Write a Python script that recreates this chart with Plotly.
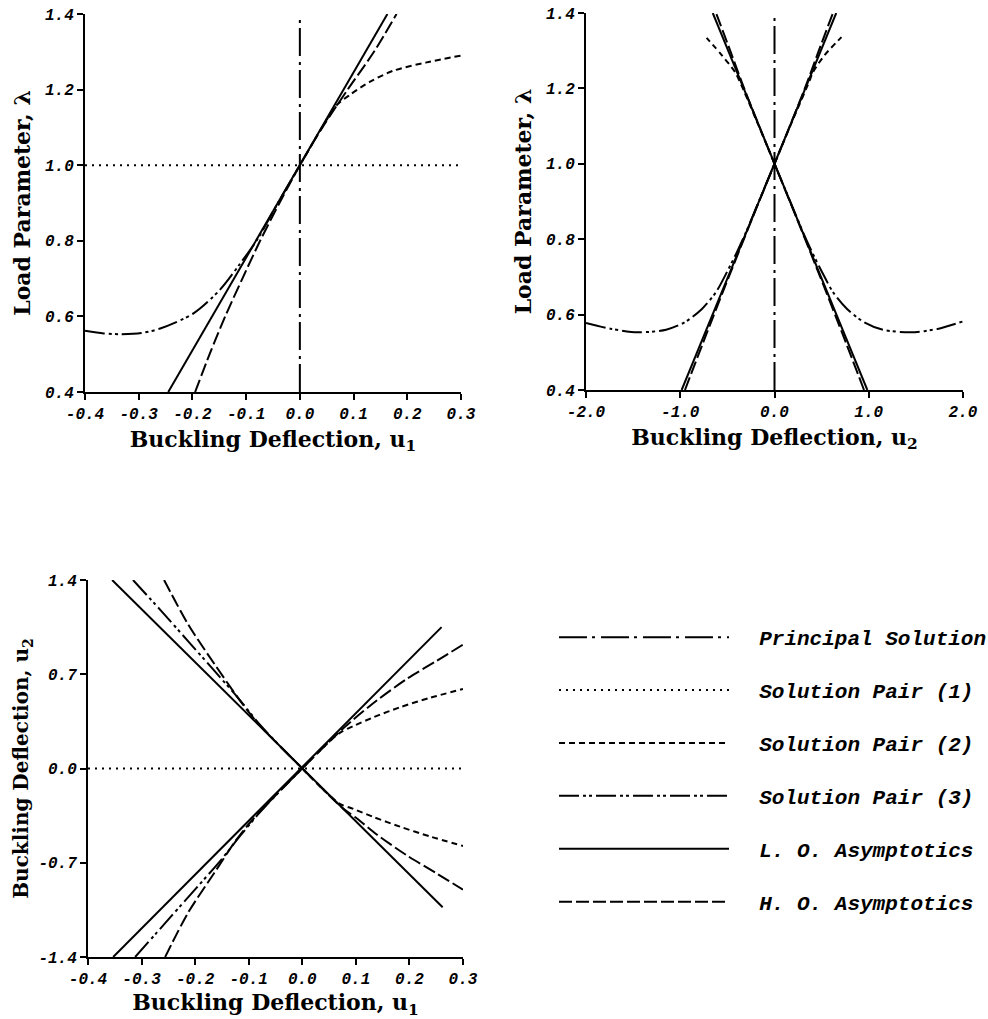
import plotly.graph_objects as go

# ---------------- Panel 1: load parameter vs u1 ----------------
P1_PRINCIPAL_U1 = [0.0, 0.0]
P1_PRINCIPAL_LAM = [0.4, 1.4]

P1_PAIR1_U1 = [-0.4, 0.3]
P1_PAIR1_LAM = [1.0, 1.0]

P1_PAIR2_U1 = [0.0, 0.03, 0.05, 0.068, 0.093, 0.131, 0.174, 0.236, 0.3]
P1_PAIR2_LAM = [1.0, 1.073, 1.12, 1.158, 1.186, 1.221, 1.250, 1.272, 1.29]

P1_PAIR3_U1 = [-0.4, -0.365, -0.333, -0.295, -0.26, -0.198, -0.149, -0.111, -0.08, -0.04, 0.0]
P1_PAIR3_LAM = [0.562, 0.555, 0.553, 0.556, 0.568, 0.608, 0.670, 0.740, 0.802, 0.902, 1.0]

P1_LO_U1 = [-0.245, 0.163]
P1_LO_LAM = [0.4, 1.4]

P1_HO_U1 = [-0.195, -0.168, -0.139, -0.107, -0.074, -0.038, 0.0, 0.042, 0.089, 0.138, 0.18]
P1_HO_LAM = [0.4, 0.5, 0.6, 0.7, 0.8, 0.9, 1.0, 1.1, 1.2, 1.3, 1.4]

# ---------------- Panel 2: load parameter vs u2 ----------------
P2_PRINCIPAL_U2 = [0.0, 0.0]
P2_PRINCIPAL_LAM = [0.4, 1.4]

P2_PAIR2_LEFT_U2 = [0.0, -0.2, -0.368, -0.421, -0.562, -0.72]
P2_PAIR2_LEFT_LAM = [1.0, 1.12, 1.218, 1.244, 1.289, 1.334]
P2_PAIR2_RIGHT_U2 = [0.0, 0.2, 0.368, 0.41, 0.534, 0.711]
P2_PAIR2_RIGHT_LAM = [1.0, 1.12, 1.218, 1.244, 1.289, 1.336]

P2_PAIR3_LEFT_U2 = [-2.0, -1.73, -1.45, -1.15, -0.95, -0.77, -0.62, -0.5, -0.4, -0.3, -0.15, 0.0]
P2_PAIR3_LEFT_LAM = [0.578, 0.562, 0.553, 0.56, 0.58, 0.615, 0.66, 0.715, 0.765, 0.82, 0.91, 1.0]
P2_PAIR3_RIGHT_U2 = [0.0, 0.15, 0.3, 0.4, 0.5, 0.62, 0.77, 0.95, 1.15, 1.45, 1.73, 2.0]
P2_PAIR3_RIGHT_LAM = [1.0, 0.91, 0.82, 0.765, 0.715, 0.66, 0.615, 0.58, 0.56, 0.553, 0.562, 0.582]

P2_LO_A_U2 = [-0.985, 0.655]
P2_LO_B_U2 = [0.985, -0.655]
P2_LO_LAM = [0.4, 1.4]

P2_HO_A_U2 = [-0.95, -0.72, -0.485, -0.245, 0.0, 0.163, 0.322, 0.47, 0.62]
P2_HO_B_U2 = [0.95, 0.72, 0.485, 0.245, 0.0, -0.163, -0.322, -0.47, -0.62]
P2_HO_LAM = [0.4, 0.55, 0.7, 0.85, 1.0, 1.1, 1.2, 1.3, 1.4]

# ---------------- Panel 3: u2 vs u1 ----------------
P3_PAIR1_U1 = [-0.4, 0.3]
P3_PAIR1_U2 = [0.0, 0.0]

P3_PAIR2_UP_U1 = [0.0, 0.04, 0.07, 0.0953, 0.1326, 0.1824, 0.2384, 0.3]
P3_PAIR2_UP_U2 = [0.0, 0.16, 0.265, 0.315, 0.38, 0.455, 0.525, 0.59]
P3_PAIR2_DN_U1 = [0.0, 0.04, 0.07, 0.0953, 0.1326, 0.1824, 0.2384, 0.3]
P3_PAIR2_DN_U2 = [0.0, -0.16, -0.262, -0.30, -0.36, -0.432, -0.505, -0.575]

P3_PAIR3_UP_U1 = [-0.316, -0.263, -0.2133, -0.1635, -0.12, -0.08, -0.04, 0.0]
P3_PAIR3_UP_U2 = [1.4, 1.169, 0.946, 0.723, 0.525, 0.33, 0.16, 0.0]
P3_PAIR3_DN_U1 = [-0.312, -0.2445, -0.1947, -0.151, -0.1138, -0.08, -0.04, 0.0]
P3_PAIR3_DN_U2 = [-1.4, -1.097, -0.874, -0.676, -0.49, -0.33, -0.16, 0.0]

P3_LO_A_U1 = [-0.355, 0.262]
P3_LO_A_U2 = [1.4, -1.03]
P3_LO_B_U1 = [-0.353, 0.26]
P3_LO_B_U2 = [-1.4, 1.05]

P3_HO_A_U1 = [-0.258, -0.213, -0.1635, -0.12, -0.089, -0.07, -0.04, 0.0,
              0.04, 0.077, 0.1016, 0.139, 0.195, 0.251, 0.3]
P3_HO_A_U2 = [1.4, 1.07, 0.773, 0.525, 0.365, 0.28, 0.16, 0.0,
              -0.16, -0.30, -0.37, -0.49, -0.645, -0.78, -0.90]
P3_HO_B_U1 = [-0.256, -0.213, -0.165, -0.125, -0.095, -0.072, -0.04, 0.0,
              0.04, 0.077, 0.0953, 0.139, 0.195, 0.251, 0.3]
P3_HO_B_U2 = [-1.4, -1.07, -0.78, -0.54, -0.39, -0.29, -0.16, 0.0,
              0.16, 0.30, 0.364, 0.505, 0.665, 0.80, 0.92]

# ---------------- tick labels ----------------
U1_TICKS = [-0.4, -0.3, -0.2, -0.1, 0.0, 0.1, 0.2, 0.3]
U1_TICKTEXT = ["-0.4", "-0.3", "-0.2", "-0.1", "0.0", "0.1", "0.2", "0.3"]
U2_TICKS = [-2.0, -1.0, 0.0, 1.0, 2.0]
U2_TICKTEXT = ["-2.0", "-1.0", "0.0", "1.0", "2.0"]
LAM_TICKS = [0.4, 0.6, 0.8, 1.0, 1.2, 1.4]
LAM_TICKTEXT = ["0.4", "0.6", "0.8", "1.0", "1.2", "1.4"]
U2V_TICKS = [-1.4, -0.7, 0.0, 0.7, 1.4]
U2V_TICKTEXT = ["-1.4", "-0.7", "0.0", "0.7", "1.4"]

# ---------------- series styles ----------------
STYLES = {
    "Principal Solution": "28px,5px,3px,6px",
    "Solution Pair (1)": "2px,5px",
    "Solution Pair (2)": "6px,4px",
    "Solution Pair (3)": "20px,4px,3px,3px,3px,4px",
    "L. O. Asymptotics": "solid",
    "H. O. Asymptotics": "13px,4px",
}
LW = 2

fig = go.Figure()


def add(name, x, y, axis, legend=False, spline=True):
    suffix = "" if axis == 1 else str(axis)
    fig.add_trace(go.Scatter(
        x=x, y=y, mode="lines", name="  " + name, legendgroup=name,
        showlegend=legend, hoverinfo="skip",
        line=dict(color="black", width=LW, dash=STYLES[name],
                  shape="spline" if spline else "linear", smoothing=0.8),
        xaxis="x" + suffix, yaxis="y" + suffix,
    ))


# Panel 1 (carries the legend entries, in legend order)
add("Principal Solution", P1_PRINCIPAL_U1, P1_PRINCIPAL_LAM, 1, True, False)
add("Solution Pair (1)", P1_PAIR1_U1, P1_PAIR1_LAM, 1, True, False)
add("Solution Pair (2)", P1_PAIR2_U1, P1_PAIR2_LAM, 1, True)
add("Solution Pair (3)", P1_PAIR3_U1, P1_PAIR3_LAM, 1, True)
add("L. O. Asymptotics", P1_LO_U1, P1_LO_LAM, 1, True, False)
add("H. O. Asymptotics", P1_HO_U1, P1_HO_LAM, 1, True)

# Panel 2
add("Principal Solution", P2_PRINCIPAL_U2, P2_PRINCIPAL_LAM, 2, spline=False)
add("Solution Pair (2)", P2_PAIR2_LEFT_U2, P2_PAIR2_LEFT_LAM, 2)
add("Solution Pair (2)", P2_PAIR2_RIGHT_U2, P2_PAIR2_RIGHT_LAM, 2)
add("Solution Pair (3)", P2_PAIR3_LEFT_U2, P2_PAIR3_LEFT_LAM, 2)
add("Solution Pair (3)", P2_PAIR3_RIGHT_U2, P2_PAIR3_RIGHT_LAM, 2)
add("L. O. Asymptotics", P2_LO_A_U2, P2_LO_LAM, 2, spline=False)
add("L. O. Asymptotics", P2_LO_B_U2, P2_LO_LAM, 2, spline=False)
add("H. O. Asymptotics", P2_HO_A_U2, P2_HO_LAM, 2)
add("H. O. Asymptotics", P2_HO_B_U2, P2_HO_LAM, 2)

# Panel 3
add("Solution Pair (1)", P3_PAIR1_U1, P3_PAIR1_U2, 3, spline=False)
add("Solution Pair (2)", P3_PAIR2_UP_U1, P3_PAIR2_UP_U2, 3)
add("Solution Pair (2)", P3_PAIR2_DN_U1, P3_PAIR2_DN_U2, 3)
add("Solution Pair (3)", P3_PAIR3_UP_U1, P3_PAIR3_UP_U2, 3)
add("Solution Pair (3)", P3_PAIR3_DN_U1, P3_PAIR3_DN_U2, 3)
add("L. O. Asymptotics", P3_LO_A_U1, P3_LO_A_U2, 3, spline=False)
add("L. O. Asymptotics", P3_LO_B_U1, P3_LO_B_U2, 3, spline=False)
add("H. O. Asymptotics", P3_HO_A_U1, P3_HO_A_U2, 3)
add("H. O. Asymptotics", P3_HO_B_U1, P3_HO_B_U2, 3)

W, H = 988, 1019
TICKFONT = dict(family="Liberation Mono", size=16, color="black",
                weight="bold", style="italic")
TITLEFONT = dict(family="DejaVu Serif", size=22, color="black", weight="bold")


def axis(anchor, domain, rng, vals, text, title, standoff, font=TITLEFONT):
    return dict(
        anchor=anchor, domain=domain, range=rng, tickvals=vals, ticktext=text,
        showline=True, linewidth=2, linecolor="black", automargin=False,
        ticks="outside", ticklen=6, tickwidth=2, tickcolor="black",
        showgrid=False, zeroline=False, tickfont=TICKFONT,
        title=dict(text=title, font=font, standoff=standoff),
    )


def xd(a, b):
    return [a / W, b / W]


def yd(top, bottom):
    return [1 - bottom / H, 1 - top / H]


fig.update_layout(
    width=W, height=H, autosize=False,
    # the legend runs up to the right edge; keep it from widening the margins
    margin=dict(l=0, r=0, t=0, b=0, pad=0, autoexpand=False),
    paper_bgcolor="white", plot_bgcolor="white",
    xaxis=axis("y", xd(85, 461), [-0.4, 0.3], U1_TICKS, U1_TICKTEXT,
               "Buckling Deflection, u<sub>1</sub>", 8),
    yaxis=axis("x", yd(14, 392), [0.4, 1.4], LAM_TICKS, LAM_TICKTEXT,
               "Load Parameter, λ", 8),
    xaxis2=axis("y2", xd(586, 963), [-2.0, 2.0], U2_TICKS, U2_TICKTEXT,
                "Buckling Deflection, u<sub>2</sub>", 8),
    yaxis2=axis("x2", yd(13, 390), [0.4, 1.4], LAM_TICKS, LAM_TICKTEXT,
                "Load Parameter, λ", 8),
    xaxis3=axis("y3", xd(88, 463), [-0.4, 0.3], U1_TICKS, U1_TICKTEXT,
                "Buckling Deflection, u<sub>1</sub>", 8),
    yaxis3=axis("x3", yd(580, 957), [-1.4, 1.4], U2V_TICKS, U2V_TICKTEXT,
                "Buckling Deflection, u<sub>2</sub>", 4,
                dict(family="DejaVu Serif", size=20, color="black", weight="bold")),
    showlegend=True,
    legend=dict(
        x=554 / W, y=1 - 617 / H, xanchor="left", yanchor="top",
        itemwidth=170, tracegroupgap=22.6, traceorder="grouped",
        bgcolor="rgba(0,0,0,0)", borderwidth=0,
        font=dict(family="Liberation Mono", size=21, color="black",
                  weight="bold", style="italic"),
    ),
)

fig.write_html("out.html")
